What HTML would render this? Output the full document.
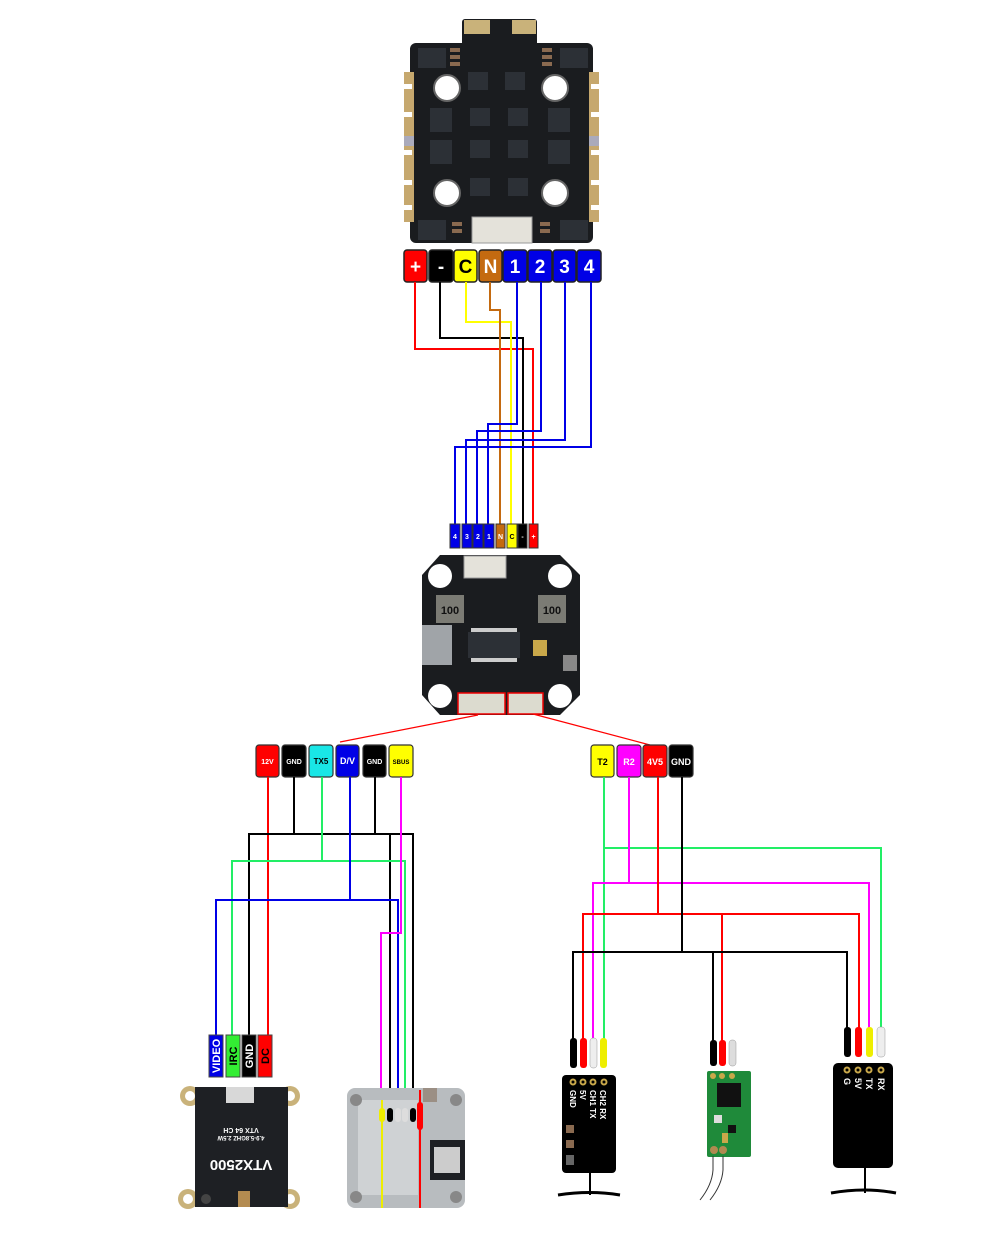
<!DOCTYPE html>
<html><head><meta charset="utf-8"><style>
html,body{margin:0;padding:0;background:#fff}
svg{display:block}
text{font-family:"Liberation Sans",sans-serif;font-weight:bold}
</style></head><body>
<svg width="1000" height="1233" viewBox="0 0 1000 1233" xmlns="http://www.w3.org/2000/svg">
<rect width="1000" height="1233" fill="#fff"/>

<!-- ===== Top ESC board ===== -->
<g>
<rect x="462" y="19" width="75" height="30" rx="3" fill="#1a1c1f"/>
<rect x="464" y="20" width="26" height="14" fill="#c9b27a"/>
<rect x="512" y="20" width="24" height="14" fill="#c9b27a"/>
<rect x="410" y="43" width="183" height="200" rx="6" fill="#1a1c1f"/>
<g fill="#c6a86e">
<rect x="404" y="72" width="10" height="150"/>
<rect x="589" y="72" width="10" height="150"/>
</g>
<g fill="#fff">
<rect x="404" y="84" width="8" height="5"/><rect x="404" y="112" width="8" height="5"/><rect x="404" y="150" width="8" height="5"/><rect x="404" y="180" width="8" height="5"/><rect x="404" y="205" width="8" height="5"/>
<rect x="591" y="84" width="8" height="5"/><rect x="591" y="112" width="8" height="5"/><rect x="591" y="150" width="8" height="5"/><rect x="591" y="180" width="8" height="5"/><rect x="591" y="205" width="8" height="5"/>
</g>
<rect x="404" y="136" width="10" height="10" fill="#aab"/><rect x="589" y="136" width="10" height="10" fill="#aab"/>
<g fill="#fff" stroke="#666" stroke-width="2">
<circle cx="447" cy="88" r="13"/><circle cx="555" cy="88" r="13"/>
<circle cx="447" cy="193" r="13"/><circle cx="555" cy="193" r="13"/>
</g>
<g fill="#2c3036">
<rect x="430" y="108" width="22" height="24"/><rect x="430" y="140" width="22" height="24"/>
<rect x="548" y="108" width="22" height="24"/><rect x="548" y="140" width="22" height="24"/>
<rect x="468" y="72" width="20" height="18"/><rect x="505" y="72" width="20" height="18"/>
<rect x="470" y="108" width="20" height="18"/><rect x="508" y="108" width="20" height="18"/>
<rect x="470" y="140" width="20" height="18"/><rect x="508" y="140" width="20" height="18"/>
<rect x="470" y="178" width="20" height="18"/><rect x="508" y="178" width="20" height="18"/>
<rect x="418" y="48" width="28" height="20"/><rect x="560" y="48" width="28" height="20"/>
<rect x="418" y="220" width="28" height="20"/><rect x="560" y="220" width="28" height="20"/>
</g>
<g fill="#8a6a50">
<rect x="450" y="48" width="10" height="4"/><rect x="450" y="55" width="10" height="4"/><rect x="450" y="62" width="10" height="4"/>
<rect x="542" y="48" width="10" height="4"/><rect x="542" y="55" width="10" height="4"/><rect x="542" y="62" width="10" height="4"/>
<rect x="452" y="222" width="10" height="4"/><rect x="452" y="229" width="10" height="4"/>
<rect x="540" y="222" width="10" height="4"/><rect x="540" y="229" width="10" height="4"/>
</g>
<rect x="472" y="217" width="60" height="26" fill="#e4e2da" stroke="#999"/>
</g>

<!-- ===== Top labels ===== -->
<g font-size="18" text-anchor="middle" stroke="#222" stroke-width="1.5">
<rect x="404" y="250" width="23" height="32" rx="3" fill="#f00"/>
<rect x="429" y="250" width="24" height="32" rx="3" fill="#000"/>
<rect x="454" y="250" width="23" height="32" rx="3" fill="#ff0"/>
<rect x="479" y="250" width="23" height="32" rx="3" fill="#c46a10"/>
<rect x="503" y="250" width="24" height="32" rx="3" fill="#0000e6"/>
<rect x="528" y="250" width="24" height="32" rx="3" fill="#0000e6"/>
<rect x="553" y="250" width="23" height="32" rx="3" fill="#0000e6"/>
<rect x="577" y="250" width="24" height="32" rx="3" fill="#0000e6"/>
</g>
<g font-size="19" text-anchor="middle">
<text x="415.5" y="273" fill="#fff">+</text>
<text x="441" y="273" fill="#fff">-</text>
<text x="465.5" y="273" fill="#000">C</text>
<text x="490.5" y="273" fill="#fff">N</text>
<text x="515" y="273" fill="#fff">1</text>
<text x="540" y="273" fill="#fff">2</text>
<text x="564.5" y="273" fill="#fff">3</text>
<text x="589" y="273" fill="#fff">4</text>
</g>

<!-- ===== Top wires ===== -->
<g fill="none" stroke-width="2">
<polyline points="415,282 415,349 533,349 533,524" stroke="#f00"/>
<polyline points="440,282 440,338 523,338 523,524" stroke="#000"/>
<polyline points="466,282 466,322 511,322 511,524" stroke="#ff0"/>
<polyline points="490,282 490,310 500,310 500,524" stroke="#c46a10"/>
<polyline points="517,282 517,424 488,424 488,524" stroke="#0000e6"/>
<polyline points="541,282 541,431 477,431 477,524" stroke="#0000e6"/>
<polyline points="565,282 565,440 466,440 466,524" stroke="#0000e6"/>
<polyline points="591,282 591,447 455,447 455,524" stroke="#0000e6"/>
</g>

<!-- small connector labels -->
<g stroke="#333" stroke-width="1">
<rect x="450" y="524" width="10" height="24" fill="#0000e6"/>
<rect x="462" y="524" width="10" height="24" fill="#0000e6"/>
<rect x="473" y="524" width="10" height="24" fill="#0000e6"/>
<rect x="484" y="524" width="10" height="24" fill="#0000e6"/>
<rect x="496" y="524" width="9" height="24" fill="#c46a10"/>
<rect x="507" y="524" width="10" height="24" fill="#ff0"/>
<rect x="518" y="524" width="9" height="24" fill="#000"/>
<rect x="529" y="524" width="9" height="24" fill="#f00"/>
</g>
<g font-size="7" text-anchor="middle" fill="#fff">
<text x="455" y="539">4</text><text x="467" y="539">3</text><text x="478" y="539">2</text><text x="489" y="539">1</text>
<text x="500.5" y="539">N</text><text x="512" y="539" fill="#000">C</text><text x="522.5" y="539">-</text><text x="533.5" y="539">+</text>
</g>

<!-- ===== Middle FC board ===== -->
<g>
<path d="M440,555 H560 L580,575 V695 L560,715 H440 L422,695 V575 Z" fill="#1a1c1f"/>
<g fill="#fff">
<circle cx="440" cy="576" r="12"/><circle cx="560" cy="576" r="12"/>
<circle cx="440" cy="696" r="12"/><circle cx="560" cy="696" r="12"/>
</g>
<rect x="464" y="556" width="42" height="22" fill="#e4e2da" stroke="#999"/>
<rect x="436" y="595" width="28" height="28" fill="#7b7b74"/>
<text x="450" y="614" font-size="11" text-anchor="middle" fill="#111" font-weight="normal">100</text>
<rect x="538" y="595" width="28" height="28" fill="#7b7b74"/>
<text x="552" y="614" font-size="11" text-anchor="middle" fill="#111" font-weight="normal">100</text>
<rect x="422" y="625" width="30" height="40" fill="#a0a4a8"/>
<rect x="468" y="632" width="52" height="26" fill="#2c3036"/>
<rect x="471" y="628" width="46" height="4" fill="#ccc"/><rect x="471" y="658" width="46" height="4" fill="#ccc"/>
<rect x="533" y="640" width="14" height="16" fill="#c9a84a"/>
<rect x="563" y="655" width="14" height="16" fill="#888"/>
<rect x="458" y="693" width="47" height="21" fill="#dcdbcf" stroke="#e00" stroke-width="1.5"/>
<rect x="508" y="693" width="35" height="21" fill="#dcdbcf" stroke="#e00" stroke-width="1.5"/>
</g>
<g stroke="#f00" stroke-width="1.2">
<line x1="478" y1="715" x2="340" y2="742"/>
<line x1="533" y1="714" x2="650" y2="745"/>
</g>

<!-- ===== Left label row ===== -->
<g stroke="#333" stroke-width="1.2">
<rect x="256" y="745" width="23" height="32" rx="3" fill="#f00"/>
<rect x="282" y="745" width="24" height="32" rx="3" fill="#000"/>
<rect x="309" y="745" width="24" height="32" rx="3" fill="#19e6e6"/>
<rect x="336" y="745" width="23" height="32" rx="3" fill="#0000e6"/>
<rect x="363" y="745" width="23" height="32" rx="3" fill="#000"/>
<rect x="389" y="745" width="24" height="32" rx="3" fill="#ff0"/>
</g>
<g font-size="7" text-anchor="middle">
<text x="267.5" y="764" fill="#fff">12V</text>
<text x="294" y="764" fill="#fff">GND</text>
<text x="321" y="764" fill="#000" font-size="8">TX5</text>
<text x="347.5" y="764" fill="#fff" font-size="9">D/V</text>
<text x="374.5" y="764" fill="#fff">GND</text>
<text x="401" y="764" fill="#000" font-size="6">SBUS</text>
</g>

<!-- ===== Right label row ===== -->
<g stroke="#333" stroke-width="1.2">
<rect x="591" y="745" width="23" height="32" rx="3" fill="#ff0"/>
<rect x="617" y="745" width="24" height="32" rx="3" fill="#f0f"/>
<rect x="643" y="745" width="24" height="32" rx="3" fill="#f00"/>
<rect x="669" y="745" width="24" height="32" rx="3" fill="#000"/>
</g>
<g font-size="9" text-anchor="middle">
<text x="602.5" y="765" fill="#000">T2</text>
<text x="629" y="765" fill="#fff">R2</text>
<text x="655" y="765" fill="#fff">4V5</text>
<text x="681" y="765" fill="#fff">GND</text>
</g>

<!-- ===== Left wires ===== -->
<g fill="none" stroke-width="2">
<line x1="268" y1="777" x2="268" y2="1035" stroke="#f00"/>
<polyline points="294,777 294,834" stroke="#000"/>
<polyline points="375,777 375,834" stroke="#000"/>
<polyline points="249,1035 249,834 413,834 413,1208" stroke="#000"/>
<line x1="390" y1="834" x2="390" y2="1208" stroke="#000"/>
<polyline points="322,777 322,861" stroke="#22ee66"/>
<polyline points="232,1035 232,861 405,861 405,1208" stroke="#22ee66"/>
<polyline points="350,777 350,900" stroke="#0000e6"/>
<polyline points="216,1035 216,900 398,900 398,1208" stroke="#0000e6"/>
<polyline points="401,777 401,933 381,933 381,1100" stroke="#f0f"/>
</g>

<!-- VTX labels -->
<g stroke="#444" stroke-width="1">
<rect x="209" y="1035" width="14" height="42" fill="#0000e6"/>
<rect x="226" y="1035" width="14" height="42" fill="#33ee33"/>
<rect x="242" y="1035" width="14" height="42" fill="#000"/>
<rect x="258" y="1035" width="14" height="42" fill="#f00"/>
</g>
<g font-size="11" text-anchor="middle">
<text transform="translate(220,1056) rotate(-90)" fill="#fff">VIDEO</text>
<text transform="translate(237,1056) rotate(-90)" fill="#000">IRC</text>
<text transform="translate(253,1056) rotate(-90)" fill="#fff">GND</text>
<text transform="translate(269,1056) rotate(-90)" fill="#000">DC</text>
</g>

<!-- VTX board -->
<g>
<g fill="#c9b27a"><circle cx="190" cy="1096" r="10"/><circle cx="290" cy="1096" r="10"/><circle cx="188" cy="1199" r="10"/><circle cx="290" cy="1199" r="10"/></g>
<g fill="#fff"><circle cx="190" cy="1096" r="5"/><circle cx="290" cy="1096" r="5"/><circle cx="188" cy="1199" r="5"/><circle cx="290" cy="1199" r="5"/></g>
<rect x="195" y="1087" width="93" height="120" fill="#1e2024"/>
<rect x="226" y="1087" width="28" height="16" fill="#d8d8d8"/>
<text transform="translate(241,1160) rotate(180)" font-size="15" text-anchor="middle" fill="#fff">VTX2500</text>
<text transform="translate(241,1128) rotate(180)" font-size="7" text-anchor="middle" fill="#fff">VTX 64 CH</text>
<text transform="translate(241,1136) rotate(180)" font-size="6" text-anchor="middle" fill="#fff">4.9-5.8GHZ 2.5W</text>
<rect x="238" y="1191" width="12" height="16" fill="#b38b50"/>
<circle cx="206" cy="1199" r="5" fill="#444"/>
</g>

<!-- Camera module -->
<g>
<rect x="347" y="1088" width="118" height="120" rx="8" fill="#b8bcbf"/>
<rect x="358" y="1100" width="60" height="95" fill="#cfd2d4"/>
<circle cx="356" cy="1100" r="6" fill="#888"/><circle cx="456" cy="1100" r="6" fill="#888"/>
<circle cx="356" cy="1197" r="6" fill="#888"/><circle cx="456" cy="1197" r="6" fill="#888"/>
<rect x="430" y="1140" width="35" height="40" fill="#1e2024"/>
<rect x="434" y="1147" width="26" height="26" fill="#ccc"/>
<rect x="423" y="1088" width="14" height="14" fill="#9b8f84"/>
<g stroke-width="2">
<line x1="382" y1="1100" x2="382" y2="1208" stroke="#ee0"/>
<line x1="420" y1="1090" x2="420" y2="1208" stroke="#f00"/>
</g>
<rect x="379" y="1108" width="6" height="14" rx="3" fill="#ee0"/>
<rect x="387" y="1108" width="6" height="14" rx="3" fill="#000"/>
<rect x="395" y="1108" width="6" height="14" rx="3" fill="#ddd"/>
<rect x="402" y="1108" width="6" height="14" rx="3" fill="#ddd"/>
<rect x="410" y="1108" width="6" height="14" rx="3" fill="#000"/>
<rect x="417" y="1102" width="6" height="28" rx="3" fill="#f00"/>
</g>

<!-- ===== Right wires ===== -->
<g fill="none" stroke-width="2">
<polyline points="604,777 604,1040" stroke="#22ee66"/>
<polyline points="604,848 881,848 881,1030" stroke="#22ee66"/>
<polyline points="629,777 629,883" stroke="#f0f"/>
<polyline points="593,1040 593,883 869,883 869,1030" stroke="#f0f"/>
<polyline points="658,777 658,914" stroke="#f00"/>
<polyline points="583,1040 583,914 859,914 859,1030" stroke="#f00"/>
<line x1="722" y1="914" x2="722" y2="1045" stroke="#f00"/>
<polyline points="682,777 682,952" stroke="#000"/>
<polyline points="573,1040 573,952 847,952 847,1030" stroke="#000"/>
<line x1="713" y1="952" x2="713" y2="1045" stroke="#000"/>
</g>

<!-- Left receiver -->
<g>
<rect x="570" y="1038" width="7" height="30" rx="3" fill="#000"/>
<rect x="580" y="1038" width="7" height="30" rx="3" fill="#f00"/>
<rect x="590" y="1038" width="7" height="30" rx="3" fill="#eee" stroke="#999" stroke-width="0.5"/>
<rect x="600" y="1038" width="7" height="30" rx="3" fill="#ee0"/>
<rect x="562" y="1075" width="54" height="98" rx="4" fill="#000"/>
<g fill="none" stroke="#c9a84a" stroke-width="2"><circle cx="573" cy="1082" r="2.5"/><circle cx="583" cy="1082" r="2.5"/><circle cx="593" cy="1082" r="2.5"/><circle cx="604" cy="1082" r="2.5"/></g>
<g font-size="8" fill="#fff" font-weight="normal">
<text transform="translate(570,1090) rotate(90)">GND</text>
<text transform="translate(580,1090) rotate(90)">5V</text>
<text transform="translate(590,1090) rotate(90)">CH1 TX</text>
<text transform="translate(600,1090) rotate(90)">CH2 RX</text>
</g>
<rect x="566" y="1125" width="8" height="8" fill="#8a6a50"/><rect x="566" y="1140" width="8" height="8" fill="#8a6a50"/>
<rect x="566" y="1155" width="8" height="10" fill="#666"/>
<line x1="590" y1="1173" x2="590" y2="1195" stroke="#000" stroke-width="2"/>
<path d="M558,1195 Q590,1190 620,1195" stroke="#000" stroke-width="3" fill="none"/>
</g>

<!-- Middle receiver -->
<g>
<rect x="710" y="1040" width="7" height="26" rx="3" fill="#000"/>
<rect x="719" y="1040" width="7" height="26" rx="3" fill="#f00"/>
<rect x="729" y="1040" width="7" height="26" rx="3" fill="#ddd" stroke="#999" stroke-width="0.5"/>
<rect x="707" y="1071" width="44" height="86" rx="2" fill="#1f8a3a"/>
<rect x="717" y="1083" width="24" height="24" fill="#111"/>
<rect x="714" y="1115" width="8" height="8" fill="#ddd"/><rect x="728" y="1125" width="8" height="8" fill="#111"/>
<rect x="722" y="1133" width="6" height="10" fill="#c9a84a"/>
<circle cx="713" cy="1076" r="3" fill="#c9a84a"/><circle cx="722" cy="1076" r="3" fill="#c9a84a"/><circle cx="732" cy="1076" r="3" fill="#c9a84a"/>
<circle cx="714" cy="1150" r="4" fill="#b08a50"/><circle cx="723" cy="1150" r="4" fill="#b08a50"/>
<path d="M713,1156 V1170 Q712,1185 700,1200" stroke="#333" fill="none"/>
<path d="M723,1156 V1170 Q722,1185 710,1200" stroke="#333" fill="none"/>
</g>

<!-- Right receiver -->
<g>
<rect x="844" y="1027" width="7" height="30" rx="3" fill="#000"/>
<rect x="855" y="1027" width="7" height="30" rx="3" fill="#f00"/>
<rect x="866" y="1027" width="7" height="30" rx="3" fill="#ee0"/>
<rect x="877" y="1027" width="8" height="30" rx="3" fill="#eee" stroke="#999" stroke-width="0.5"/>
<rect x="833" y="1063" width="60" height="105" rx="5" fill="#000"/>
<g fill="none" stroke="#c9a84a" stroke-width="2"><circle cx="847" cy="1070" r="2.5"/><circle cx="858" cy="1070" r="2.5"/><circle cx="869" cy="1070" r="2.5"/><circle cx="881" cy="1070" r="2.5"/></g>
<g font-size="9" fill="#fff" font-weight="normal">
<text transform="translate(844,1078) rotate(90)">G</text>
<text transform="translate(855,1078) rotate(90)">5V</text>
<text transform="translate(866,1078) rotate(90)">TX</text>
<text transform="translate(878,1078) rotate(90)">RX</text>
</g>
<line x1="865" y1="1168" x2="865" y2="1193" stroke="#000" stroke-width="2"/>
<path d="M831,1193 Q865,1187 896,1193" stroke="#000" stroke-width="3" fill="none"/>
</g>
</svg>
</body></html>
